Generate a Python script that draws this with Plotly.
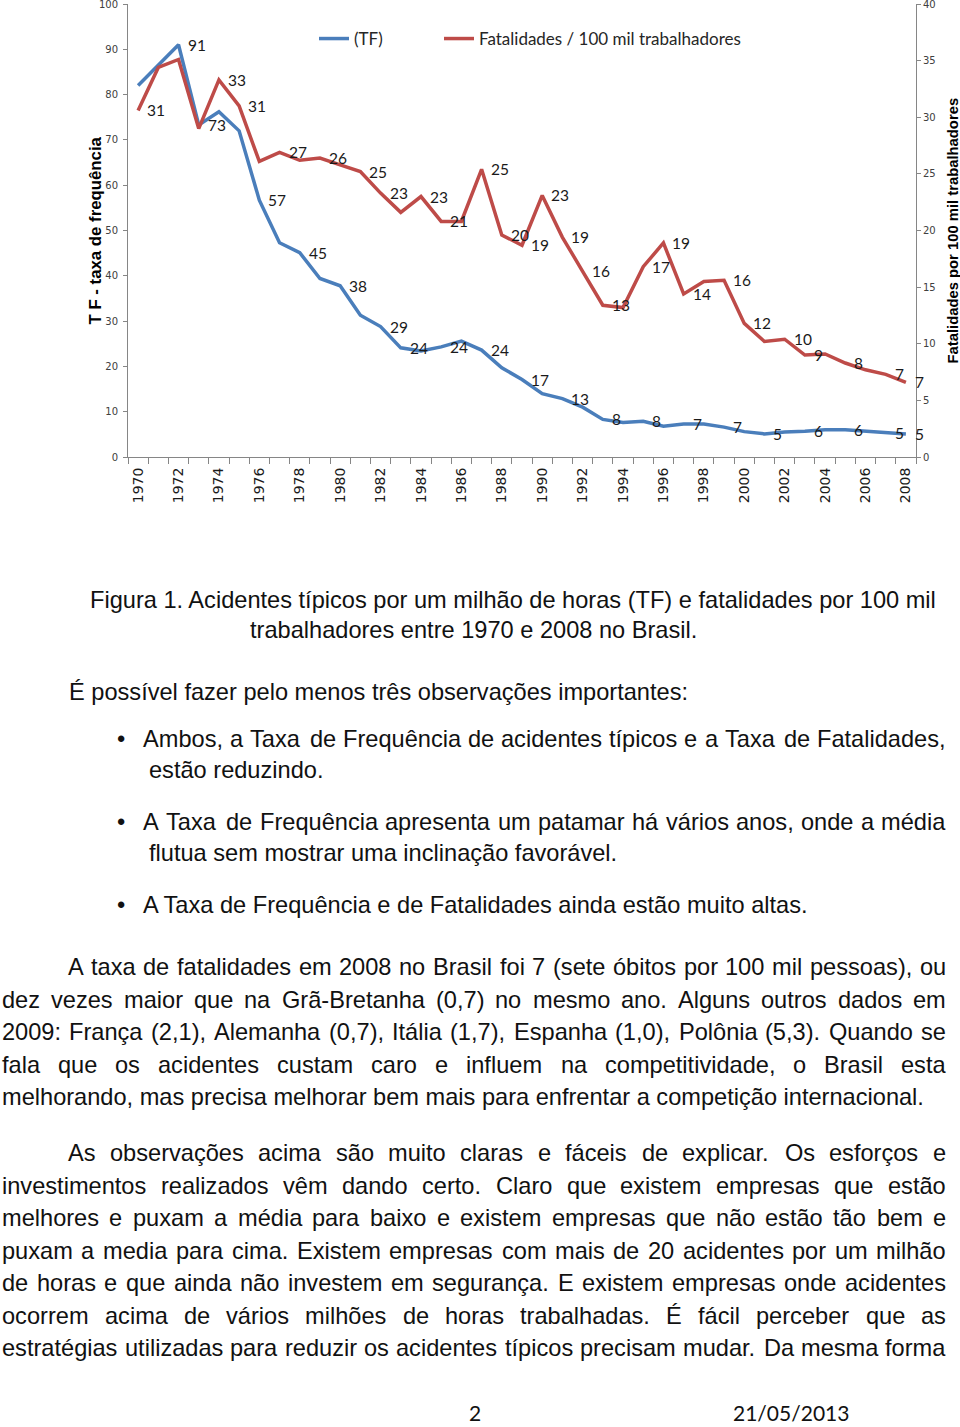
import plotly.graph_objects as go
import unicodedata

# ---------------- data ----------------
years = list(range(1970, 2009))
tf = [82, 86.4, 91, 73.3, 76.2, 72, 56.7, 47.3, 45.1, 39.4, 37.8, 31.3, 28.8,
      24.1, 23.4, 24.3, 25.6, 23.6, 19.7, 17.1, 14.0, 12.9, 11.0, 8.3, 7.6,
      7.9, 6.8, 7.3, 7.3, 6.6, 5.6, 5.1, 5.5, 5.7, 6.0, 6.0, 5.7, 5.4, 5.1]
fatal = [30.6, 34.4, 35.1, 29.0, 33.3, 31.0, 26.1, 26.9, 26.2, 26.4, 25.8,
         25.2, 23.3, 21.6, 23.0, 20.8, 20.8, 25.4, 19.6, 18.7, 23.1, 19.4,
         16.4, 13.4, 13.2, 16.8, 18.9, 14.4, 15.5, 15.6, 11.8, 10.2, 10.4,
         9.0, 9.1, 8.3, 7.7, 7.3, 6.6]
tf_label_years = [1972, 1973, 1976, 1978, 1980, 1982, 1983, 1985, 1987, 1989,
                  1991, 1993, 1995, 1997, 1999, 2001, 2003, 2005, 2007, 2008]
fatal_label_years = [1970, 1974, 1975, 1977, 1979, 1981, 1982, 1984, 1985,
                     1987, 1988, 1989, 1990, 1991, 1992, 1993, 1995, 1996,
                     1997, 1999, 2000, 2002, 2003, 2005, 2007, 2008]
tick_years = list(range(1970, 2009, 2))
tick_text = [str(y) for y in tick_years]

BLUE = "#4A7EBB"
RED = "#BE4B48"
AXIS = "#868686"

W, H = 960, 1427
L, R, T, B = 128, 44, 4, 970

fig = go.Figure()
fig.add_trace(go.Scatter(x=years, y=tf, mode="lines", name="(TF)",
                         line=dict(color=BLUE, width=3.5), legend="legend"))
fig.add_trace(go.Scatter(x=years, y=fatal, mode="lines",
                         name="Fatalidades / 100 mil trabalhadores",
                         line=dict(color=RED, width=3.5), yaxis="y2",
                         legend="legend2"))

annotations = []
lab_font = dict(family="Lato", size=15.5, color="#1a1a1a")
for yr in tf_label_years:
    v = tf[years.index(yr)]
    annotations.append(dict(x=yr, y=v, xref="x", yref="y", text=str(round(v)),
                            showarrow=False, xanchor="left", yanchor="middle",
                            xshift=9, font=lab_font, borderpad=0, borderwidth=0))
for yr in fatal_label_years:
    v = fatal[years.index(yr)]
    annotations.append(dict(x=yr, y=v, xref="x", yref="y2", text=str(round(v)),
                            showarrow=False, xanchor="left", yanchor="middle",
                            xshift=9, font=lab_font, borderpad=0, borderwidth=0))

# axis titles
annotations.append(dict(x=0, y=0.5, xref="paper", yref="paper", xshift=-33,
                        xanchor="center", yanchor="middle",
                        text="<b>T F - taxa de frequência</b>", textangle=-90,
                        showarrow=False, font=dict(family="Liberation Sans", size=16.8, color="#000")))
annotations.append(dict(x=1, y=0.5, xref="paper", yref="paper", xshift=36,
                        xanchor="center", yanchor="middle",
                        text="<b>Fatalidades por 100 mil trabalhadores</b>", textangle=-90,
                        showarrow=False, font=dict(family="Liberation Sans", size=14.8, color="#000")))

# ---------------- page text ----------------
AW = {' ': 278, '(': 333, ')': 333, ',': 278, '-': 333, '.': 278, '/': 278, ':': 278,
      'A': 667, 'B': 667, 'C': 722, 'D': 722, 'E': 667, 'F': 611, 'G': 778, 'H': 722,
      'I': 278, 'J': 500, 'K': 667, 'L': 556, 'M': 833, 'N': 722, 'O': 778, 'P': 667,
      'Q': 778, 'R': 722, 'S': 667, 'T': 611, 'U': 722, 'V': 667, 'W': 944, 'X': 667,
      'Y': 667, 'Z': 611, 'a': 556, 'b': 556, 'c': 500, 'd': 556, 'e': 556, 'f': 278,
      'g': 556, 'h': 556, 'i': 222, 'j': 222, 'k': 500, 'l': 222, 'm': 833, 'n': 556,
      'o': 556, 'p': 556, 'q': 556, 'r': 333, 's': 500, 't': 278, 'u': 556, 'v': 500,
      'w': 722, 'x': 500, 'y': 500, 'z': 500, 'í': 278}


def width(s, size):
    tot = 0
    for ch in s:
        if ch in AW:
            tot += AW[ch]
        elif ch.isdigit():
            tot += 556
        else:
            base = unicodedata.normalize("NFD", ch)[0]
            tot += AW.get(base, 556)
    return tot * size / 1000.0


def px(x):
    return (x - L) / (W - L - R)


def py(y):
    return (H - B - y) / (H - T - B)


BODY = dict(family="Liberation Sans", size=23.6, color="#111111")


def put(text, x, y, anchor="left", font=BODY):
    annotations.append(dict(x=px(x), y=py(y), xref="paper", yref="paper", text=text,
                            showarrow=False, xanchor=anchor, yanchor="middle",
                            font=font, borderpad=0, borderwidth=0))


def justify(line, x0, x1, y):
    words = line.split(" ")
    ws = [width(w, BODY["size"]) for w in words]
    gap = (x1 - x0 - sum(ws)) / (len(words) - 1)
    x = x0
    for i, w in enumerate(words):
        if i == len(words) - 1:
            put(w, x1, y, anchor="right")
        else:
            put(w, x, y)
        x += ws[i] + gap


caption = ["Figura 1. Acidentes típicos por um milhão de horas (TF) e fatalidades por 100 mil",
           "trabalhadores entre 1970 e 2008 no Brasil."]
put(caption[0], 90, 600)
put(caption[1], 250, 630)
put("É possível fazer pelo menos três observações importantes:", 69, 692)

bullets = [("Ambos, a Taxa de Frequência de acidentes típicos e a Taxa de Fatalidades,", "estão reduzindo.", 739, 770),
           ("A Taxa de Frequência apresenta um patamar há vários anos, onde a média", "flutua sem mostrar uma inclinação favorável.", 822, 853),
           ("A Taxa de Frequência e de Fatalidades ainda estão muito altas.", None, 905, None)]
for first, cont, y1, y2 in bullets:
    put("•", 121, y1, anchor="center")
    if cont:
        justify(first, 143, 946, y1)
        put(cont, 149, y2)
    else:
        put(first, 143, y1)

para1 = ["A taxa de fatalidades em 2008 no Brasil foi 7 (sete óbitos por 100 mil pessoas), ou",
         "dez vezes maior que na Grã-Bretanha (0,7) no mesmo ano. Alguns outros dados em",
         "2009: França (2,1), Alemanha (0,7), Itália (1,7), Espanha (1,0), Polônia (5,3). Quando se",
         "fala que os acidentes custam caro e influem na competitividade, o Brasil esta",
         "melhorando, mas precisa melhorar bem mais para enfrentar a competição internacional."]
para1_y = [967, 1000, 1032, 1065, 1097]
para2 = ["As observações acima são muito claras e fáceis de explicar. Os esforços e",
         "investimentos realizados vêm dando certo. Claro que existem empresas que estão",
         "melhores e puxam a média para baixo e existem empresas que não estão tão bem e",
         "puxam a media para cima. Existem empresas com mais de 20 acidentes por um milhão",
         "de horas e que ainda não investem em segurança. E existem empresas onde acidentes",
         "ocorrem acima de vários milhões de horas trabalhadas. É fácil perceber que as",
         "estratégias utilizadas para reduzir os acidentes típicos precisam mudar. Da mesma forma"]
para2_y = [1153, 1186, 1218, 1251, 1283, 1316, 1348]

for i, (line, y) in enumerate(zip(para1, para1_y)):
    x0 = 68 if i == 0 else 2
    if i == len(para1) - 1:
        put(line, x0, y)
    else:
        justify(line, x0, 946, y)
for i, (line, y) in enumerate(zip(para2, para2_y)):
    x0 = 68 if i == 0 else 2
    justify(line, x0, 946, y)

FOOT = dict(family="Lato", size=21, color="#111111")
put("2", 475, 1412, anchor="center", font=FOOT)
put("21/05/2013", 791, 1412, anchor="center", font=FOOT)

tick_font = dict(family="DejaVu Sans", size=10, color="#404040")
fig.update_layout(
    width=W, height=H, autosize=False,
    margin=dict(l=L, r=R, t=T, b=B, autoexpand=False),
    paper_bgcolor="white", plot_bgcolor="white",
    showlegend=True,
    legend=dict(x=px(314), y=py(39), xanchor="left", yanchor="middle",
                orientation="h", bgcolor="rgba(0,0,0,0)",
                font=dict(family="Lato", size=17, color="#262626")),
    legend2=dict(x=px(439), y=py(39), xanchor="left", yanchor="middle",
                 orientation="h", bgcolor="rgba(0,0,0,0)",
                 font=dict(family="Lato", size=17, color="#262626")),
    xaxis=dict(range=[1969.5, 2008.5], tickmode="array", tickvals=tick_years,
               ticktext=tick_text, tickangle=-90, ticks="", showline=True,
               linecolor=AXIS, linewidth=1, showgrid=False, zeroline=False,
               tickfont=dict(family="DejaVu Sans", size=14, color="#1a1a1a"),
               ticklabelstandoff=4, automargin=False,
               minor=dict(tickmode="array", tickvals=[y - 0.5 for y in years] + [2008.5],
                          ticks="outside", ticklen=6, tickcolor=AXIS, showgrid=False)),
    yaxis=dict(range=[0, 100], tickmode="array", tickvals=list(range(0, 101, 10)),
               ticks="outside", ticklen=4, tickcolor=AXIS,
               showline=True, linecolor=AXIS, showgrid=False, zeroline=False,
               tickfont=tick_font, ticklabeloverflow="allow", ticklabelstandoff=3,
               automargin=False),
    yaxis2=dict(range=[0, 40], tickmode="array", tickvals=list(range(0, 41, 5)),
                overlaying="y", side="right", ticks="outside",
                ticklen=4, tickcolor=AXIS, showline=True, linecolor=AXIS,
                showgrid=False, zeroline=False, tickfont=tick_font,
                ticklabeloverflow="allow", automargin=False),
    annotations=annotations,
)

fig.write_html("out.html", config={"displayModeBar": False},
               post_script="document.body.style.margin='0px';")
